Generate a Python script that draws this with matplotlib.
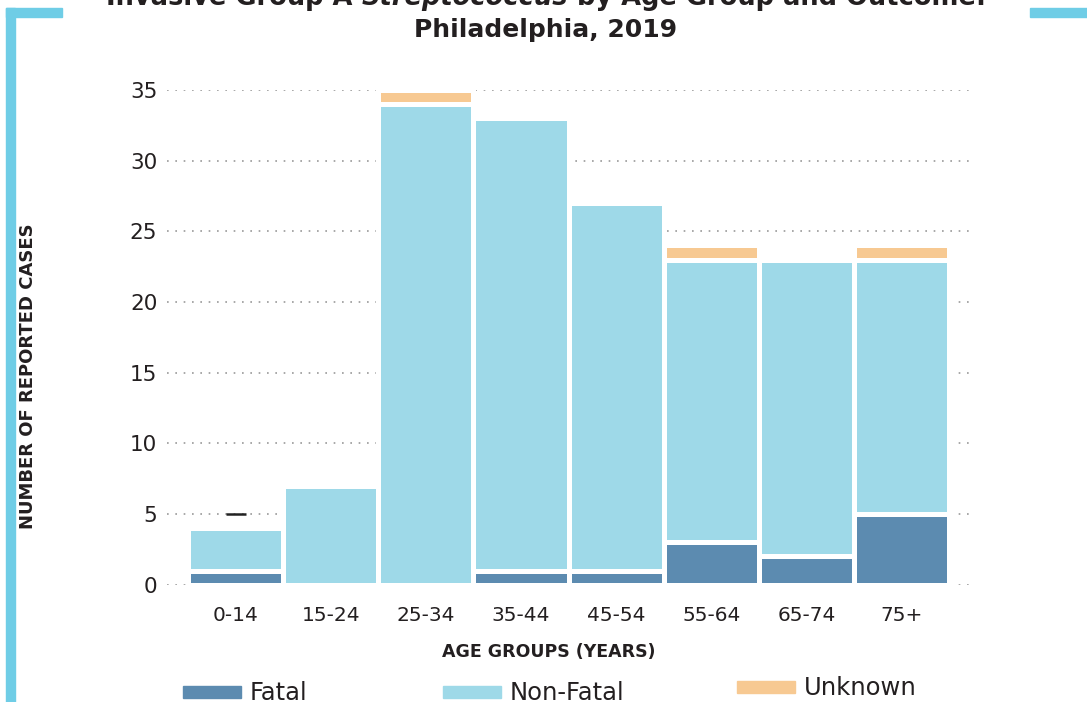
import matplotlib
matplotlib.use("Agg")
import matplotlib.pyplot as plt
from matplotlib.patches import Rectangle
import numpy as np

# Invasive Group A Streptococcus cases by age group and outcome, Philadelphia 2019
age_groups = ["0-14", "15-24", "25-34", "35-44", "45-54", "55-64", "65-74", "75+"]
fatal = [1, 0, 0, 1, 1, 3, 2, 5]
non_fatal = [3, 7, 34, 32, 26, 20, 21, 18]
unknown = [0, 0, 1, 0, 0, 1, 0, 1]
marker_value = 5  # small dash shown above the 0-14 bar

y_ticks = [0, 5, 10, 15, 20, 25, 30, 35]

FATAL_C = "#5c8bb0"
NONFATAL_C = "#9ed9e8"
UNKNOWN_C = "#f7c992"
ACCENT = "#6fcde6"
TEXT_C = "#231f20"
FONT = ["DejaVu Sans"]

W, H = 1087, 702
fig = plt.figure(figsize=(W / 100, H / 100), dpi=100)


def fx(px):
    return px / W


def fy(py):
    return 1 - py / H


ax = fig.add_axes([fx(167), fy(584.7), fx(970) - fx(167), fy(90) - fy(584.7)])

x = np.arange(len(age_groups))
fatal_a = np.array(fatal, dtype=float)
nonfatal_a = np.array(non_fatal, dtype=float)
unknown_a = np.array(unknown, dtype=float)

bar_kw = dict(width=1.0, edgecolor="white", linewidth=3.6, zorder=3)
ax.bar(x, fatal_a, color=FATAL_C, **bar_kw)
ax.bar(x, nonfatal_a, bottom=fatal_a, color=NONFATAL_C, **bar_kw)
mask = unknown_a > 0
ax.bar(x[mask], unknown_a[mask], bottom=(fatal_a + nonfatal_a)[mask],
       color=UNKNOWN_C, **bar_kw)

ax.plot([x[0]], [marker_value], marker="_", markersize=14, mew=1.8,
        color="#222222", zorder=4)

ax.set_xlim(-0.72, len(age_groups) - 1 + 0.72)
ax.set_ylim(0, 35)
ax.set_yticks(y_ticks)
ax.set_xticks(x)
ax.set_xticklabels(age_groups)
for s in ax.spines.values():
    s.set_visible(False)
ax.tick_params(axis="both", length=0, colors=TEXT_C)
ax.tick_params(axis="y", pad=7, labelsize=15.5)
ax.tick_params(axis="x", pad=15, labelsize=14.5)
for lab in ax.get_xticklabels() + ax.get_yticklabels():
    lab.set_family(FONT)
ax.yaxis.grid(True, linestyle=(0, (1, 4)), color="#999999", linewidth=1.2,
              zorder=0)
ax.set_axisbelow(True)

# axis titles
fig.text(fx(549), fy(652), "AGE GROUPS (YEARS)", ha="center", va="center",
         fontsize=12.5, fontweight="bold", color=TEXT_C, family=FONT)
fig.text(fx(28), fy(376), "NUMBER OF REPORTED CASES", ha="center",
         va="center", rotation=90, fontsize=13, fontweight="bold",
         color=TEXT_C, family=FONT)

# chart title (first line partly above the top edge)
fig.text(fx(546), fy(37), "Philadelphia, 2019", ha="center",
         va="baseline", fontsize=18, fontweight="bold", color=TEXT_C,
         family=FONT)

parts = [("Invasive Group A ", "normal"), ("Streptococcus", "oblique"),
         (" by Age Group and Outcome:", "normal")]
renderer = fig.canvas.get_renderer()
texts = []
for s, style in parts:
    t = fig.text(0, fy(5), s, ha="left", va="baseline", fontsize=18.5,
                 fontweight="bold", style=style, color=TEXT_C, family=FONT)
    texts.append(t)
widths = [t.get_window_extent(renderer).width for t in texts]
total = sum(widths)
start = 546 - total / 2
for t, w in zip(texts, widths):
    t.set_x(fx(start))
    start += w

# legend
legend_items = [("Fatal", FATAL_C, 183, 686), ("Non-Fatal", NONFATAL_C, 443, 686),
                ("Unknown", UNKNOWN_C, 737, 681)]
for label, col, px, py in legend_items:
    fig.patches.append(Rectangle((fx(px), fy(py + 12)), fx(58), 12 / H,
                                 transform=fig.transFigure, color=col))
    fig.text(fx(px + 67), fy(py + 7), label, ha="left", va="center",
             fontsize=17.5, color=TEXT_C, family=FONT)

# decorative corner brackets
fig.patches.append(Rectangle((fx(6), 0), fx(9), fy(8), transform=fig.transFigure,
                             color=ACCENT))
fig.patches.append(Rectangle((fx(6), fy(17)), fx(56), 9 / H,
                             transform=fig.transFigure, color=ACCENT))
fig.patches.append(Rectangle((fx(1030), fy(17)), fx(57), 9 / H,
                             transform=fig.transFigure, color=ACCENT))

fig.savefig("out.png", dpi=100)
